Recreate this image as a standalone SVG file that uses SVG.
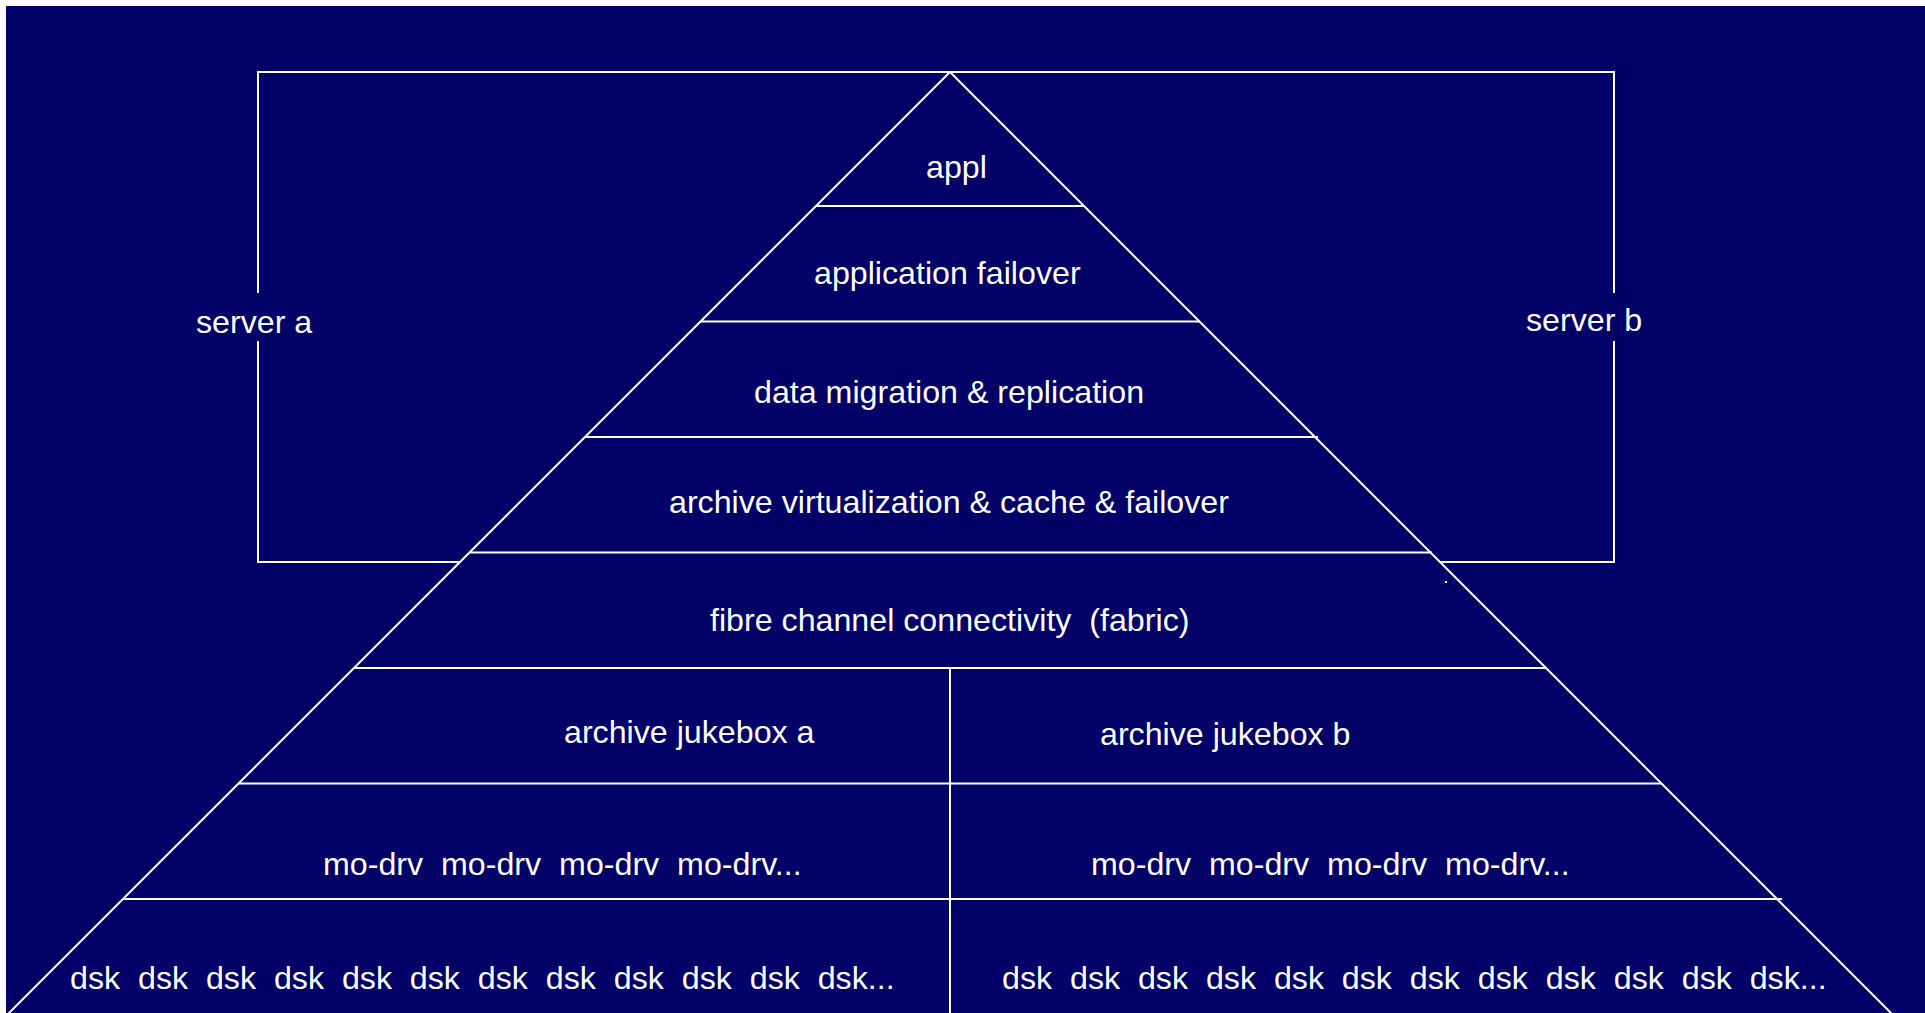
<svg xmlns="http://www.w3.org/2000/svg" width="1925" height="1013" viewBox="0 0 1925 1013">
<style>
.ln{stroke:#ffffff;stroke-width:2;fill:none}
.t{font-family:"Liberation Sans",Arial,sans-serif;font-size:32.2px;fill:#ffffff;white-space:pre}
</style>
<rect x="0" y="0" width="1925" height="1013" fill="#ffffff"/>
<rect x="6" y="6" width="1919" height="1007" fill="#000066"/>
<g id="connectors">
<polyline class="ln" points="258,293 258,72 1614,72 1614,293"/>
<polyline class="ln" points="258,341 258,562 460,562"/>
<polyline class="ln" points="1440,562 1614,562 1614,341"/>
<line class="ln" x1="950" y1="72" x2="7" y2="1015"/>
<line class="ln" x1="950" y1="72" x2="1893" y2="1015"/>
<line class="ln" x1="816" y1="206" x2="1085" y2="206"/>
<line class="ln" x1="700" y1="321.5" x2="1200" y2="321.5"/>
<line class="ln" x1="585" y1="437" x2="1318" y2="437"/>
<line class="ln" x1="470" y1="552.5" x2="1432" y2="552.5"/>
<line class="ln" x1="354" y1="668" x2="1546" y2="668"/>
<line class="ln" x1="239" y1="783.5" x2="1662" y2="783.5"/>
<line class="ln" x1="123" y1="899" x2="1782" y2="899"/>
<line class="ln" x1="950" y1="668" x2="950" y2="1013"/>
<rect x="1445" y="581" width="2" height="2" fill="#ffffff"/>
</g>
<g id="server-a"><text class="t" x="196" y="333">server a</text></g>
<g id="server-b"><text class="t" x="1526" y="331">server b</text></g>
<g id="appl"><text class="t" x="926" y="178">appl</text></g>
<g id="application-failover"><text class="t" x="814" y="284">application failover</text></g>
<g id="data-migration"><text class="t" x="754" y="403">data migration &amp; replication</text></g>
<g id="archive-virtualization"><text class="t" x="669" y="513">archive virtualization &amp; cache &amp; failover</text></g>
<g id="fibre-channel"><text class="t" x="710" y="631">fibre channel connectivity  (fabric)</text></g>
<g id="jukebox-a"><text class="t" x="564" y="743">archive jukebox a</text></g>
<g id="jukebox-b"><text class="t" x="1100" y="745">archive jukebox b</text></g>
<g id="mo-drv-a"><text class="t" x="323" y="875">mo-drv  mo-drv  mo-drv  mo-drv...</text></g>
<g id="mo-drv-b"><text class="t" x="1091" y="875">mo-drv  mo-drv  mo-drv  mo-drv...</text></g>
<g id="dsk-a"><text class="t" x="70" y="989">dsk  dsk  dsk  dsk  dsk  dsk  dsk  dsk  dsk  dsk  dsk  dsk...</text></g>
<g id="dsk-b"><text class="t" x="1002" y="989">dsk  dsk  dsk  dsk  dsk  dsk  dsk  dsk  dsk  dsk  dsk  dsk...</text></g>
</svg>
